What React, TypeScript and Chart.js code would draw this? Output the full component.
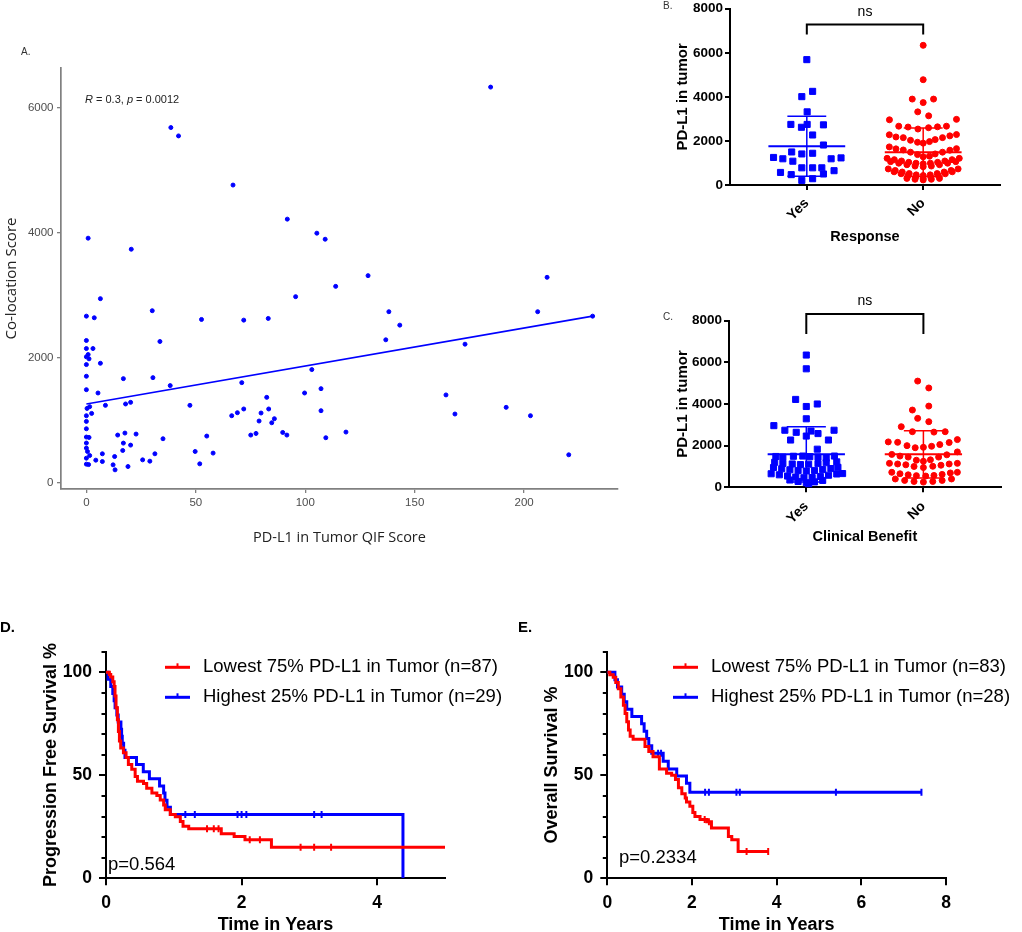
import React, { useEffect, useRef } from "react";
import { Chart, registerables } from "chart.js";
Chart.register(...registerables);

const SANS = "'Liberation Sans', Arial, Helvetica, sans-serif";
const OPEN = "'Open Sans', 'Liberation Sans', sans-serif";
const BLUE = "#0000ff";
const RED = "#ff0000";
Chart.defaults.font.family = SANS;

// ---------- Panel A: scatter ----------
const aX = [0.8, 38.6, 42.1, 20.5, 67, 91.8, 105.3, 109.1, 113.9, 6.4, 95.6, 184.7, 128.7, 210.5, 0, 3.6, 30.1, 52.6, 71.9, 83.1,
  33.6, 0, 0, 3.0, 0.8, 1.2, 0, 6.4, 0, 0, 16.9, 30.4, 0, 5.3, 38.3, 71, 103, 99.7, 107.2, 82.4,
  8.7, 17.9, 20.2, 1.5, 0.3, 2.4, 0, 0, 0, 0, 1.2, 0, 0, 0.5, 1.5, 0, 0, 1.0, 4.3, 7.3,
  7.3, 12.9, 12.2, 13.1, 19, 25.7, 29, 31.3, 16.6, 16.9, 20.2, 14.3, 17.6, 22.7, 35, 47.3, 49.7, 51.8, 55, 57.9,
  66.4, 69, 71.9, 79.8, 83.3, 78.9, 84.7, 85.9, 75.1, 77.5, 89.7, 91.6, 107.2, 109.4, 138.2, 206.2, 143.2, 136.8, 173, 231.3,
  164.3, 168.4, 191.8, 202.9, 118.6, 220.4];
const aY = [3917, 5689, 5555, 3740, 4768, 4222, 3997, 3900, 3145, 2948, 2980, 6337, 3317, 3290, 2668, 2642, 2755, 2615, 2604, 2631,
  2262, 2278, 2149, 2149, 2053, 1984, 2016, 1913, 1892, 1705, 1667, 1683, 1490, 1437, 1555, 1603, 1812, 1437, 1506, 1367,
  1239, 1261, 1287, 1218, 1190, 1110, 1073, 982, 864, 731, 725, 635, 554, 500, 435, 393, 297, 290, 361, 339,
  463, 419, 286, 206, 259, 366, 345, 463, 516, 634, 602, 763, 795, 779, 704, 1239, 500, 302, 747, 474,
  1073, 1121, 1181, 1116, 1181, 988, 960, 1025, 763, 789, 805, 763, 1153, 720, 2739, 2739, 2524, 2289, 2219, 2668,
  1406, 1100, 1207, 1073, 811, 447];
const aFitX = [0, 231.3];
const aFitY = [1260, 2668];
const aXTicks = [0, 50, 100, 150, 200];
const aYTicks = [0, 2000, 4000, 6000];

// ---------- Panels B & C: dot plots ----------
const groups = ["Yes", "No"];
const bcYTicks = [0, 2000, 4000, 6000, 8000];

const bYesVal = [5690, 4250, 4010, 3320, 2750, 2620, 2750, 2730, 2270, 1815, 1500, 1410, 1440, 1250, 1190, 1080, 1190, 1230,
  780, 780, 780, 570, 470, 500, 650, 285, 210];
const bYesDx = [0, 0.05, -0.043, 0.003, -0.137, -0.046, 0.003, 0.143, 0.05, 0.143, -0.13, -0.043, 0.05, -0.286, -0.206, -0.12, 0.209, 0.294,
  -0.043, 0.05, 0.129, -0.226, -0.134, 0.143, 0.234, 0.05, -0.043];
const bNoVal = [6340, 4780, 3900, 3740, 3900, 3320, 3140, 2960, 2980,
  2670, 2630, 2540, 2600, 2640, 2670,
  2280, 2180, 2150, 2030, 1940, 1900, 1970, 2060, 2150, 2230, 2290,
  1730, 1640, 1590, 1490, 1380, 1280, 1310, 1410, 1490, 1580, 1650,
  1210, 1150, 1090, 1030, 990, 960, 990, 1030, 1090, 1150, 1210,
  1060, 990, 920, 860, 830, 860, 920, 990, 1060,
  730, 660, 590, 520, 460, 430, 460, 520, 590, 660, 730,
  600, 510, 430, 360, 300, 360, 430, 510, 600,
  300, 260, 230, 260, 300];
const bNoDx = [0, 0, -0.094, 0, 0.089, -0.047, 0.047, -0.29, 0.286,
  -0.21, -0.13, -0.045, 0.046, 0.123, 0.2,
  -0.291, -0.234, -0.171, -0.109, -0.049, 0, 0.054, 0.103, 0.166, 0.229, 0.286,
  -0.291, -0.234, -0.171, -0.109, -0.049, 0, 0.054, 0.103, 0.166, 0.229, 0.286,
  -0.31, -0.248, -0.186, -0.124, -0.062, 0, 0.062, 0.124, 0.186, 0.248, 0.31,
  -0.28, -0.21, -0.14, -0.07, 0, 0.07, 0.14, 0.21, 0.28,
  -0.3, -0.24, -0.18, -0.12, -0.06, 0, 0.06, 0.12, 0.18, 0.24, 0.3,
  -0.25, -0.19, -0.13, -0.065, 0, 0.065, 0.13, 0.19, 0.25,
  -0.14, -0.07, 0, 0.07, 0.14];
const bMean = [1757, 1490];
const bSD = [1365, 1100];
const bBracket = [7280, 6830];

const cYesVal = [6350, 5690, 4220, 4000, 3880, 3290, 2960, 2740, 2640, 2700, 2580, 2740, 2270, 2460, 2270, 1830,
  1480, 1450, 1490, 1500, 1470, 1450, 1400, 1500,
  1200, 1150, 1120, 1090, 1110, 1140, 1180, 1220,
  950, 890, 840, 800, 780, 810, 850, 900, 960,
  650, 600, 540, 490, 460, 470, 520, 580, 640, 660,
  350, 280, 220, 260, 330, 150];
const cYesDx = [0, 0, -0.091, 0.094, 0, 0, -0.277, -0.183, -0.086, 0.04, 0.1, 0.237, -0.134, 0, 0.189, 0.094,
  -0.26, -0.2, -0.11, -0.03, 0.03, 0.1, 0.17, 0.24,
  -0.27, -0.2, -0.12, -0.05, 0.02, 0.1, 0.17, 0.26,
  -0.28, -0.21, -0.14, -0.07, 0, 0.07, 0.14, 0.21, 0.27,
  -0.3, -0.23, -0.16, -0.09, -0.02, 0.05, 0.12, 0.19, 0.26, 0.31,
  -0.14, -0.07, 0, 0.07, 0.14, 0.02];
const cNoVal = [5100, 4770, 3710, 3900, 3310, 3150, 2910, 2670, 2650, 2670,
  2180, 2160, 2000, 1900, 1920, 1970, 2050, 2150, 2290,
  1700, 1580, 1500, 1450, 1300, 1250, 1320, 1450, 1560,
  1150, 1120, 1080, 1000, 950, 1010, 1060, 1120, 1150,
  720, 650, 600, 560, 540, 570, 620, 690, 720,
  400, 330, 280, 250, 280, 330, 400];
const cNoDx = [-0.049, 0.046, -0.094, 0.046, -0.049, 0.046, -0.189, -0.094, 0.09, 0.186,
  -0.3, -0.22, -0.14, -0.07, 0, 0.07, 0.14, 0.22, 0.29,
  0.29, -0.27, -0.2, -0.13, -0.06, 0, 0.06, 0.13, 0.2,
  -0.29, -0.22, -0.15, -0.08, 0, 0.08, 0.15, 0.22, 0.29,
  -0.27, -0.2, -0.13, -0.06, 0.02, 0.09, 0.16, 0.23, 0.29,
  -0.24, -0.16, -0.08, 0, 0.08, 0.16, 0.24];
const cMean = [1584, 1584];
const cSD = [1325, 1133];
const cBracket = [8320, 7360];

// ---------- Panels D & E: Kaplan-Meier ----------
const dRedT = [0, 0.05, 0.07, 0.1, 0.12, 0.133, 0.148, 0.168, 0.183, 0.198, 0.217, 0.257, 0.296, 0.33, 0.38, 0.43, 0.464, 0.553, 0.6, 0.677,
  0.75, 0.8, 0.85, 0.874, 0.948, 1.022, 1.096, 1.136, 1.22, 1.7, 1.89, 2.05, 2.44, 5.0];
const dRedS = [100, 98.9, 97.7, 95.4, 93.1, 88.5, 82.8, 77.0, 71.3, 66.7, 63.2, 60.9, 58.6, 55.2, 52.9, 49.4, 47.1, 46.0, 43.7, 41.4,
  40.2, 38.0, 35.6, 33.3, 31.0, 29.9, 27.6, 25.3, 24.1, 21.6, 20.3, 18.7, 15.1, 15.1];
const dRedCens = [1.49, 1.59, 1.66, 2.12, 2.27, 2.87, 3.07, 3.32];
const dBlueT = [0, 0.03, 0.07, 0.1, 0.12, 0.134, 0.16, 0.18, 0.22, 0.23, 0.24, 0.26, 0.28, 0.45, 0.55, 0.64, 0.79, 0.85, 0.87, 0.9, 0.95, 4.38];
const dBlueS = [100, 96.6, 93.1, 89.7, 86.2, 82.8, 79.3, 75.9, 72.4, 69.0, 65.5, 62.1, 58.6, 55.2, 51.7, 48.3, 44.8, 41.4, 37.9, 34.5, 31.0, 0];
const dBlueCens = [1.17, 1.31, 1.94, 2.0, 2.07, 3.07, 3.18];

const eRedT = [0, 0.06, 0.14, 0.2, 0.26, 0.32, 0.38, 0.42, 0.46, 0.5, 0.54, 0.61, 0.89, 0.98, 1.08, 1.23, 1.4, 1.52, 1.61, 1.68,
  1.76, 1.84, 1.87, 1.95, 2.02, 2.07, 2.19, 2.35, 2.46, 2.86, 2.94, 3.09, 3.8];
const eRedS = [100, 98.8, 97.6, 95.0, 92.0, 88.0, 84.0, 80.0, 76.0, 72.0, 69.0, 67.5, 64.0, 61.5, 59.0, 53.0, 51.0, 50.0, 48.0, 44.0,
  41.0, 39.0, 37.0, 35.0, 32.0, 30.0, 28.6, 27.5, 24.4, 20.3, 18.7, 13.0, 13.0];
const eRedCens = [2.3, 2.4, 3.29, 3.8];
const eBlueT = [0, 0.18, 0.24, 0.34, 0.4, 0.46, 0.58, 0.81, 0.87, 0.93, 0.98, 1.05, 1.32, 1.44, 1.64, 1.87, 1.95, 7.42];
const eBlueS = [100, 96.4, 92.9, 89.3, 85.7, 82.1, 78.6, 75.0, 71.4, 67.9, 64.3, 60.7, 56.8, 53.0, 49.6, 46.1, 41.8, 41.8];
const eBlueCens = [1.2, 1.27, 2.31, 2.4, 3.05, 3.13, 5.4, 7.42];

const kmYTicks = [0, 50, 100];
const kmYMinor = [10, 20, 30, 40, 60, 70, 80, 90, 110];
const dXTicks = [0, 2, 4];
const eXTicks = [0, 2, 4, 6, 8];
const dLegend = ["Lowest 75% PD-L1 in Tumor (n=87)", "Highest 25% PD-L1 in Tumor (n=29)"];
const eLegend = ["Lowest 75% PD-L1 in Tumor (n=83)", "Highest 25% PD-L1 in Tumor (n=28)"];

// ---------- helpers ----------
function fixedTicks(values: number[]) {
  return (scale: any) => {
    scale.ticks = values.map((v) => ({ value: v }));
  };
}
const plain = (v: number) => String(v);
function stepValue(T: number[], S: number[], t: number) {
  let s = S[0];
  for (let i = 0; i < T.length; i++) if (T[i] <= t) s = S[i];
  return s;
}
const baseOptions = {
  animation: false,
  responsive: false,
  devicePixelRatio: 1,
  events: [],
  plugins: { legend: { display: false }, tooltip: { enabled: false } },
};

// ---------- Panel A ----------
function buildA(): any {
  const axisColor = "#808080";
  const note = {
    id: "aNote",
    afterDraw(chart: any) {
      const ctx = chart.ctx;
      ctx.save();
      ctx.fillStyle = "#222";
      ctx.textBaseline = "middle";
      let x = 85;
      const y = 60;
      const parts: [string, boolean][] = [["R", true], [" = 0.3, ", false], ["p", true], [" = 0.0012", false]];
      for (const [t, it] of parts) {
        ctx.font = `${it ? "italic " : ""}11px ${SANS}`;
        ctx.fillText(t, x, y);
        x += ctx.measureText(t).width;
      }
      ctx.restore();
    },
  };
  return {
    type: "scatter",
    data: {
      datasets: [
        {
          type: "line",
          data: aFitX.map((x, i) => ({ x, y: aFitY[i] })),
          borderColor: BLUE,
          borderWidth: 1.6,
          pointRadius: 0,
          fill: false,
        },
        {
          data: aX.map((x, i) => ({ x, y: aY[i] })),
          pointRadius: 2,
          pointBorderWidth: 1,
          pointBackgroundColor: BLUE,
          pointBorderColor: BLUE,
        },
      ],
    },
    options: {
      ...baseOptions,
      layout: { padding: { left: 0, top: 28, right: 22, bottom: 0 } },
      scales: {
        x: {
          type: "linear",
          min: -11.6,
          max: 242.9,
          afterBuildTicks: fixedTicks(aXTicks),
          afterFit: (s: any) => { s.height = 81; },
          grid: { display: true, drawOnChartArea: false, drawTicks: true, tickLength: 4, tickColor: axisColor, tickWidth: 1.3, lineWidth: 1.3 },
          border: { display: true, color: axisColor, width: 1.7 },
          ticks: { callback: plain, color: "#4d4d4d", font: { family: SANS, size: 11.5 }, padding: 3, maxRotation: 0, minRotation: 0, autoSkip: false },
          title: { display: true, text: "PD-L1 in Tumor QIF Score", color: "#222", font: { family: OPEN, size: 14.5 }, padding: { top: 0, bottom: 23 } },
        },
        y: {
          type: "linear",
          min: -101,
          max: 6643,
          afterBuildTicks: fixedTicks(aYTicks),
          afterFit: (s: any) => { s.width = 61; },
          grid: { display: true, drawOnChartArea: false, drawTicks: true, tickLength: 4, tickColor: axisColor, tickWidth: 1.3, lineWidth: 1.3 },
          border: { display: true, color: axisColor, width: 1.7 },
          ticks: { callback: plain, color: "#4d4d4d", font: { family: SANS, size: 11.5, lineHeight: 1 }, padding: 3.5 },
          title: { display: true, text: "Co-location Score", color: "#222", font: { family: OPEN, size: 15 }, padding: { top: 3, bottom: 0 } },
        },
      },
    },
    plugins: [note],
  };
}

// ---------- Panels B & C ----------
function statsPlugin(mean: number[], sd: number[], bracket: number[]) {
  return {
    id: "stats",
    afterDatasetsDraw(chart: any) {
      const { ctx } = chart;
      const x = chart.scales.x;
      const y = chart.scales.y;
      const colors = [BLUE, RED];
      ctx.save();
      mean.forEach((m, i) => {
        const s = sd[i];
        ctx.strokeStyle = colors[i];
        ctx.lineWidth = 2;
        ctx.beginPath();
        ctx.moveTo(x.getPixelForValue(i - 0.33), y.getPixelForValue(m));
        ctx.lineTo(x.getPixelForValue(i + 0.33), y.getPixelForValue(m));
        ctx.stroke();
        ctx.lineWidth = 1.5;
        ctx.beginPath();
        ctx.moveTo(x.getPixelForValue(i), y.getPixelForValue(m - s));
        ctx.lineTo(x.getPixelForValue(i), y.getPixelForValue(m + s));
        for (const v of [m - s, m + s]) {
          ctx.moveTo(x.getPixelForValue(i - 0.167), y.getPixelForValue(v));
          ctx.lineTo(x.getPixelForValue(i + 0.167), y.getPixelForValue(v));
        }
        ctx.stroke();
      });
      ctx.restore();
    },
    afterDraw(chart: any) {
      const { ctx } = chart;
      const x = chart.scales.x;
      const y = chart.scales.y;
      const x0 = x.getPixelForValue(0);
      const x1 = x.getPixelForValue(1);
      const yt = y.getPixelForValue(bracket[0]);
      const yb = y.getPixelForValue(bracket[1]);
      ctx.save();
      ctx.strokeStyle = "#000";
      ctx.lineWidth = 2;
      ctx.beginPath();
      ctx.moveTo(x0, yb);
      ctx.lineTo(x0, yt);
      ctx.lineTo(x1, yt);
      ctx.lineTo(x1, yb);
      ctx.stroke();
      ctx.fillStyle = "#000";
      ctx.font = `14px ${SANS}`;
      ctx.textAlign = "center";
      ctx.textBaseline = "middle";
      ctx.fillText("ns", (x0 + x1) / 2, yt - 12.6);
      ctx.restore();
    },
  };
}

function buildDot(p: any): any {
  const axisStyle = {
    grid: { display: true, drawOnChartArea: false, drawTicks: true, tickLength: 5, tickColor: "#000", tickWidth: 2, lineWidth: 2 },
    border: { display: true, color: "#000", width: 2 },
  };
  return {
    type: "scatter",
    data: {
      datasets: [
        {
          data: p.yesVal.map((v: number, i: number) => ({ x: 0 + p.yesDx[i], y: v })),
          pointStyle: "rect",
          pointRadius: 4.3,
          pointBorderWidth: 1,
          pointBackgroundColor: BLUE,
          pointBorderColor: BLUE,
        },
        {
          data: p.noVal.map((v: number, i: number) => ({ x: 1 + p.noDx[i], y: v })),
          pointStyle: "circle",
          pointRadius: 3,
          pointBorderWidth: 1,
          pointBackgroundColor: RED,
          pointBorderColor: RED,
        },
      ],
    },
    options: {
      ...baseOptions,
      layout: { padding: { left: 0, top: p.top, right: p.right, bottom: 0 } },
      scales: {
        x: {
          type: "linear",
          min: -0.66,
          max: 1.66,
          afterBuildTicks: fixedTicks([0, 1]),
          afterFit: (s: any) => { s.height = p.xHeight; },
          ...axisStyle,
          ticks: {
            callback: (v: number) => groups[v],
            minRotation: 45,
            maxRotation: 45,
            autoSkip: false,
            color: "#000",
            font: { family: SANS, size: 14, weight: "bold" },
            padding: p.xTickPad,
          },
          title: { display: true, text: p.xTitle, color: "#000", font: { family: SANS, size: 14.5, weight: "bold" }, padding: { top: 0, bottom: 4.3 } },
        },
        y: {
          type: "linear",
          min: 0,
          max: 8000,
          afterBuildTicks: fixedTicks(bcYTicks),
          afterFit: (s: any) => { s.width = p.yWidth; },
          ...axisStyle,
          ticks: { callback: plain, color: "#000", font: { family: SANS, size: 13.5, weight: "bold", lineHeight: 1 }, padding: 2 },
          title: { display: true, text: "PD-L1 in tumor", color: "#000", font: { family: SANS, size: 15, weight: "bold" }, padding: { top: 14.3, bottom: 0 } },
        },
      },
    },
    plugins: [statsPlugin(p.mean, p.sd, p.bracket)],
  };
}

const buildB = () =>
  buildDot({ yesVal: bYesVal, yesDx: bYesDx, noVal: bNoVal, noDx: bNoDx, mean: bMean, sd: bSD, bracket: bBracket,
    xTitle: "Response", top: 7, right: 22, xHeight: 65, yWidth: 70, xTickPad: 5 });
const buildC = () =>
  buildDot({ yesVal: cYesVal, yesDx: cYesDx, noVal: cNoVal, noDx: cNoDx, mean: cMean, sd: cSD, bracket: cBracket,
    xTitle: "Clinical Benefit", top: 25.7, right: 21.3, xHeight: 62.7, yWidth: 69, xTickPad: 6 });

// ---------- Panels D & E ----------
function kmDatasets(T: number[], S: number[], C: number[], color: string) {
  return [
    {
      type: "line",
      data: T.map((t, i) => ({ x: t, y: S[i] })),
      borderColor: color,
      borderWidth: 3,
      stepped: true,
      pointRadius: 0,
      fill: false,
      borderJoinStyle: "miter",
      borderCapStyle: "butt",
    },
    {
      data: C.map((t) => ({ x: t, y: stepValue(T, S, t) })),
      pointStyle: "line",
      pointRotation: 90,
      pointRadius: 3.5,
      pointBorderWidth: 2,
      pointBorderColor: color,
      pointBackgroundColor: color,
    },
  ];
}

function buildKM(p: any): any {
  const axisStyle = {
    grid: { display: true, drawOnChartArea: false, drawTicks: true, tickLength: 7, tickColor: "#000", tickWidth: 2, lineWidth: 2 },
    border: { display: true, color: "#000", width: 2 },
  };
  const extras = {
    id: "kmExtras",
    afterDraw(chart: any) {
      const { ctx, chartArea } = chart;
      const y = chart.scales.y;
      ctx.save();
      ctx.strokeStyle = "#000";
      ctx.lineWidth = 2;
      ctx.beginPath();
      kmYMinor.forEach((v) => {
        const py = Math.round(y.getPixelForValue(v));
        ctx.moveTo(chartArea.left - 4.5, py);
        ctx.lineTo(chartArea.left, py);
      });
      ctx.stroke();
      const colors = [RED, BLUE];
      p.legend.forEach((text: string, k: number) => {
        const yy = p.legendY + k * 30;
        ctx.strokeStyle = colors[k];
        ctx.lineWidth = 3;
        ctx.beginPath();
        ctx.moveTo(p.legendX, yy);
        ctx.lineTo(p.legendX + 25, yy);
        ctx.stroke();
        ctx.lineWidth = 2;
        ctx.beginPath();
        ctx.moveTo(p.legendX + 12.5, yy - 4);
        ctx.lineTo(p.legendX + 12.5, yy);
        ctx.stroke();
        ctx.fillStyle = "#000";
        ctx.font = `18.5px ${SANS}`;
        ctx.textBaseline = "middle";
        ctx.textAlign = "left";
        ctx.fillText(text, p.legendX + 38, yy);
      });
      ctx.font = `18.5px ${SANS}`;
      ctx.fillText(p.pText, p.pX, p.pY);
      ctx.restore();
    },
  };
  return {
    type: "scatter",
    data: {
      datasets: [...kmDatasets(p.red[0], p.red[1], p.red[2], RED), ...kmDatasets(p.blue[0], p.blue[1], p.blue[2], BLUE)],
    },
    options: {
      ...baseOptions,
      layout: { padding: { left: 0, top: 41.7, right: p.right, bottom: 0 } },
      scales: {
        x: {
          type: "linear",
          min: 0,
          max: p.xMax,
          afterBuildTicks: fixedTicks(p.xTicks),
          afterFit: (s: any) => { s.height = 53.7; },
          ...axisStyle,
          ticks: { callback: plain, color: "#000", font: { family: SANS, size: 17.5, weight: "bold" }, padding: 7, maxRotation: 0, minRotation: 0, autoSkip: false },
          title: { display: true, text: "Time in Years", color: "#000", font: { family: SANS, size: 18, weight: "bold" }, padding: { top: 0, bottom: -3.8 } },
        },
        y: {
          type: "linear",
          min: 0,
          max: 110,
          afterBuildTicks: fixedTicks(kmYTicks),
          afterFit: (s: any) => { s.width = p.yWidth; },
          ...axisStyle,
          ticks: { callback: plain, color: "#000", font: { family: SANS, size: 17.5, weight: "bold", lineHeight: 1 }, padding: 7 },
          title: { display: true, text: p.yTitle, color: "#000", font: { family: SANS, size: 18, weight: "bold" }, padding: { top: p.yTitlePad, bottom: 0 } },
        },
      },
    },
    plugins: [extras],
  };
}

const buildD = () =>
  buildKM({
    red: [dRedT, dRedS, dRedCens], blue: [dBlueT, dBlueS, dBlueCens], xMax: 5, xTicks: dXTicks,
    yTitle: "Progression Free Survival %", yTitlePad: 39.8, yWidth: 106, right: 75,
    legend: dLegend, legendX: 165, legendY: 57.3, pText: "p=0.564", pX: 108, pY: 255,
  });
const buildE = () =>
  buildKM({
    red: [eRedT, eRedS, eRedCens], blue: [eBlueT, eBlueS, eBlueCens], xMax: 8, xTicks: eXTicks,
    yTitle: "Overall Survival %", yTitlePad: 21.5, yWidth: 87.3, right: 76,
    legend: eLegend, legendX: 153, legendY: 57.3, pText: "p=0.2334", pX: 99, pY: 248,
  });

// ---------- components ----------
function ChartBox({ left, top, width, height, build }: any) {
  const ref = useRef<HTMLCanvasElement | null>(null);
  useEffect(() => {
    if (!ref.current) return;
    const chart = new Chart(ref.current, build());
    return () => chart.destroy();
  }, []);
  return <canvas ref={ref} width={width} height={height} style={{ position: "absolute", left, top, width, height }} />;
}

function Letter({ text, left, top, size, bold, color }: any) {
  return (
    <div style={{ position: "absolute", left, top, fontFamily: SANS, fontSize: size, fontWeight: bold ? 700 : 400, color, lineHeight: 1, whiteSpace: "nowrap" }}>
      {text}
    </div>
  );
}

export default function App() {
  return (
    <div style={{ position: "absolute", left: 0, top: 0, width: 1022, height: 932, background: "#fff", overflow: "hidden" }}>
      <ChartBox left={0} top={40} width={640} height={530} build={buildA} />
      <ChartBox left={660} top={0} width={362} height={250} build={buildB} />
      <ChartBox left={660} top={295} width={362} height={255} build={buildC} />
      <ChartBox left={0} top={610} width={520} height={322} build={buildD} />
      <ChartBox left={520} top={610} width={502} height={322} build={buildE} />
      <Letter text="A." left={21} top={47} size={10} color="#333" />
      <Letter text="B." left={663} top={1} size={10} color="#333" />
      <Letter text="C." left={663} top={312} size={10} color="#333" />
      <Letter text="D." left={0} top={619} size={15} bold color="#000" />
      <Letter text="E." left={518} top={619} size={15} bold color="#000" />
    </div>
  );
}
